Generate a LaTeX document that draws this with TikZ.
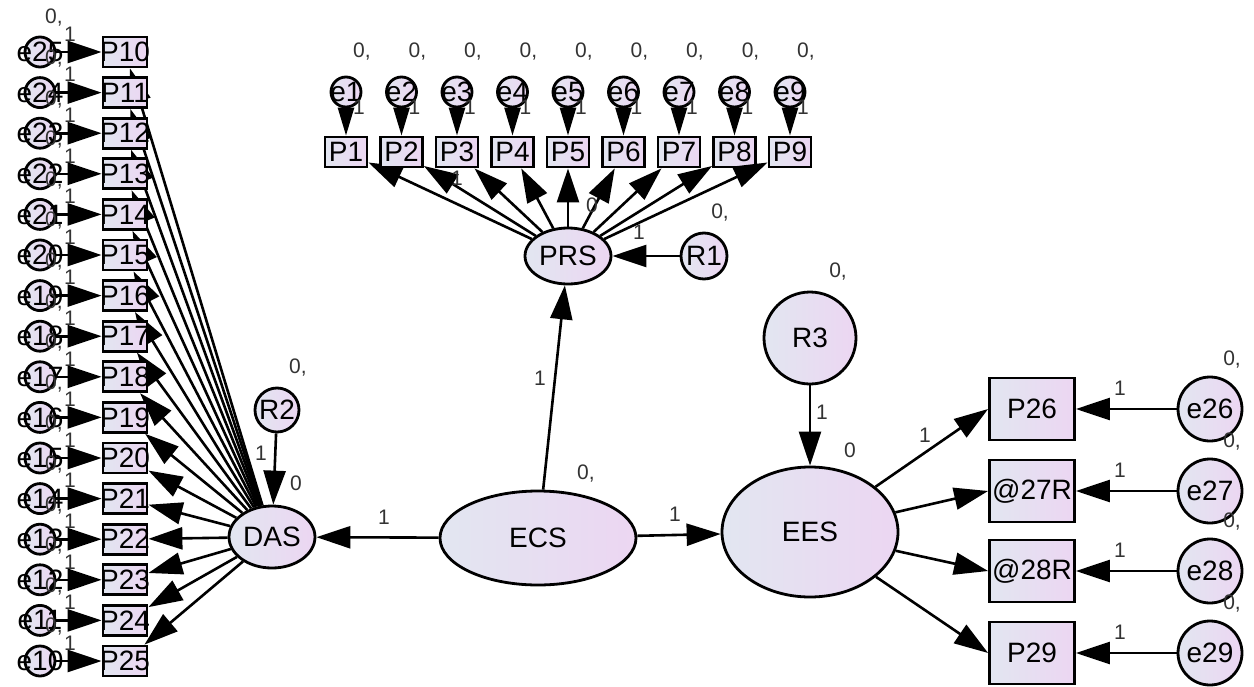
\documentclass[tikz,border=0pt]{standalone}
\usepackage{fontspec}
\setmainfont{Liberation Sans}
\usetikzlibrary{arrows.meta,shapes.geometric}
\definecolor{shadeA}{RGB}{226,230,241}
\definecolor{shadeB}{RGB}{236,214,242}
\newcommand{\nolap}[1]{\makebox[0pt]{#1}}
\begin{document}
\begin{tikzpicture}[x=0.5pt, y=-0.5pt,
    >={Triangle[length=17pt,width=11pt]},
    every node/.style={font=\fontsize{14}{16}\selectfont, inner sep=0pt},
    fil/.style={draw, line width=1.4pt, left color=shadeA, right color=shadeB},
    lat/.style={fil, ellipse},
    obs/.style={fil, rectangle},
    err/.style={fil, circle},
    num/.style={font=\fontsize{10.5}{12}\selectfont, text=black!80},
    path/.style={->, line width=1.3pt},
    short path/.style={-{Triangle[length=14pt,width=8pt]}, line width=1.3pt}]
     \useasboundingbox (0,0) rectangle (1254,686);
     \node[lat, minimum width=43pt, minimum height=28pt] (PRS) at (568,256) {PRS};
     \node[lat, minimum width=43pt, minimum height=31pt] (DAS) at (272,537) {DAS};
     \node[lat, minimum width=98pt, minimum height=47pt] (ECS) at (538,538) {ECS};
     \node[lat, minimum width=88pt, minimum height=65pt] (EES) at (810,532) {EES};
     \node[err, minimum size=23pt] (R1) at (704,256) {R1};
     \node[err, minimum size=22pt] (R2) at (277,410) {R2};
     \node[err, minimum size=46pt] (R3) at (810,338) {R3};
     \foreach \k in {1,...,9}
     {
         \node[obs, minimum width=21pt, minimum height=15pt] (P\k) at ({346+55.5*(\k-1)},152) {P\k};
         \node[err, minimum size=15pt] (e\k) at ({346+55.5*(\k-1)},92) {\nolap{e\k}};
         \node[num] (v\k) at ({362+55.5*(\k-1)},52) {0,};
         \node[num] (w\k) at ({359+55.5*(\k-1)},107) {1};
         \draw[short path] (e\k) -- (P\k);
         \draw[path] (PRS) -- (P\k);
     }
     \foreach \i in {0,...,15}
     {
         \pgfmathsetmacro{\y}{52+40.6*\i}
         \pgfmathtruncatemacro{\n}{25-\i}
         \pgfmathtruncatemacro{\p}{10+\i}
         \node[obs, minimum width=22pt, minimum height=15pt] (P\p) at (125,\y) {\nolap{P\p}};
         \node[err, minimum size=15pt] (e\n) at (40,\y) {\nolap{e\n}};
         \node[num] (v\n) at (54,\y-34) {0,};
         \node[num] (w\n) at (70,\y-18) {1};
         \draw[path] (e\n) -- (P\p);
         \draw[path] (DAS) -- (P\p);
     }
     \foreach \y/\t [count=\k from 26] in {409/P26, 491/@27R, 571/@28R, 653/P29}
     {
         \node[obs, minimum width=42.5pt, minimum height=31pt] (P\k) at (1032,\y) {\t};
         \node[err, minimum size=32pt] (e\k) at (1210,\y) {e\k};
         \node[num] (v\k) at (1232,\y-49) {0,};
         \node[num] (w\k) at (1120,\y-21) {1};
         \draw[path] (e\k) -- (P\k);
         \draw[path] (EES) -- (P\k.west);
     }
     \draw[path] (ECS) -- (DAS);
     \draw[path] (ECS) -- (EES);
     \draw[path] (ECS) -- (PRS);
     \draw[path] (R1) -- (PRS);
     \draw[path] (R2) -- (DAS);
     \draw[path] (R3) -- (EES);
     \node[num] (ecsdas) at (384,517) {1};
     \node[num] (ecsees) at (675,514) {1};
     \node[num] (ecsprs) at (540,378) {1};
     \node[num] (ecsvar) at (586,474) {0,};
     \node[num] (prsint) at (592,205) {0};
     \node[num] (prsfix) at (457,178) {1};
     \node[num] (r1var) at (720,213) {0,};
     \node[num] (r1fix) at (639,232) {1};
     \node[num] (r2var) at (298,368) {0,};
     \node[num] (r2fix) at (261,453) {1};
     \node[num] (dasint) at (296,483) {0};
     \node[num] (r3var) at (838,272) {0,};
     \node[num] (r3fix) at (822,412) {1};
     \node[num] (eesint) at (850,450) {0};
     \node[num] (eesfix) at (925,435) {1};
\end{tikzpicture}
\end{document}
